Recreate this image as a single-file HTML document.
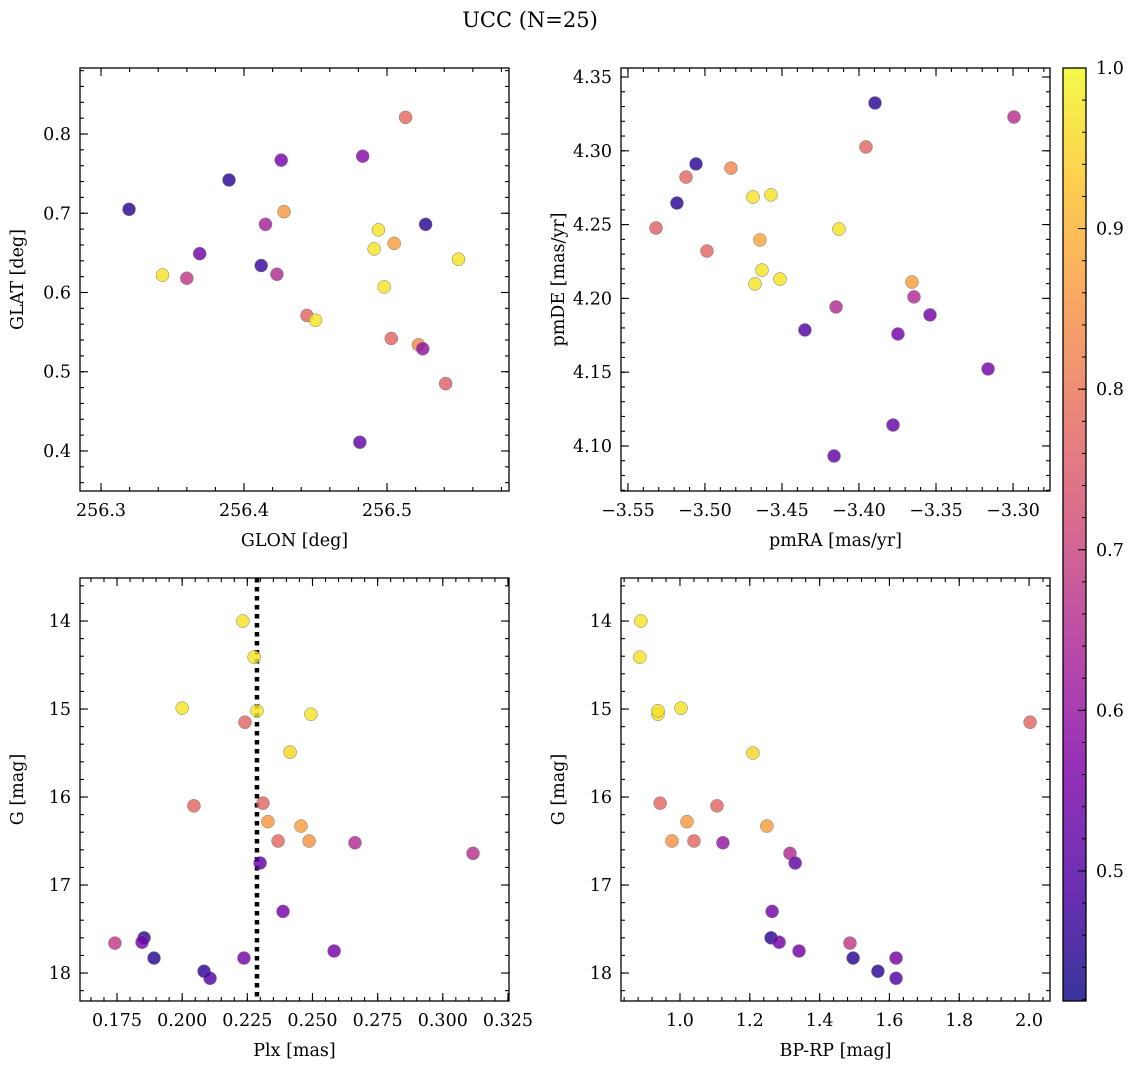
<!DOCTYPE html>
<html><head><meta charset="utf-8"><style>
body{margin:0;background:#fff;}
svg{display:block;font-family:"DejaVu Serif","Liberation Serif",serif;}
</style></head><body>
<svg id="chart" width="1136" height="1068" viewBox="0 0 1136 1068">
<text x="530" y="27" text-anchor="middle" font-size="21">UCC (N=25)</text>
</svg>
<script>
// Panel 1: GLON vs GLAT
const p1X=[256.3196,256.3895,256.426,256.483,256.513,256.369,256.343,256.360,256.412,256.415,256.428,256.423,256.494,256.491,256.505,256.527,256.550,256.498,256.444,256.450,256.503,256.522,256.525,256.541,256.481];
const p1Y=[0.705,0.742,0.767,0.772,0.821,0.649,0.622,0.618,0.634,0.686,0.702,0.623,0.679,0.655,0.662,0.686,0.642,0.607,0.571,0.565,0.542,0.534,0.529,0.485,0.411];
const p1C=[0.45,0.45,0.55,0.58,0.78,0.55,0.97,0.68,0.47,0.63,0.86,0.65,0.97,0.97,0.87,0.45,0.97,0.97,0.77,0.97,0.77,0.83,0.6,0.76,0.52];
// Panel 2: pmRA vs pmDE
const p2X=[-3.3896,-3.2994,-3.3955,-3.5058,-3.5123,-3.4831,-3.5182,-3.5318,-3.4987,-3.4688,-3.4571,-3.413,-3.4643,-3.463,-3.4513,-3.4675,-3.3656,-3.3643,-3.4149,-3.3539,-3.3747,-3.4351,-3.3162,-3.3779,-3.4162];
const p2Y=[4.3324,4.3229,4.3026,4.2911,4.2822,4.2883,4.2646,4.2477,4.2321,4.2687,4.2701,4.247,4.2396,4.2192,4.2131,4.2098,4.2111,4.201,4.1942,4.1888,4.1759,4.1786,4.1522,4.1142,4.0932];
const p2C=[0.45,0.66,0.77,0.45,0.77,0.83,0.45,0.76,0.77,0.97,0.97,0.97,0.88,0.97,0.97,0.97,0.87,0.65,0.65,0.55,0.55,0.5,0.55,0.53,0.52];
// Panel 3: Plx vs G
const p3X=[0.2233,0.2276,0.2,0.2241,0.2287,0.2494,0.2414,0.2045,0.231,0.2329,0.2456,0.2368,0.2487,0.2663,0.3116,0.2299,0.2387,0.1742,0.1854,0.1846,0.1892,0.2583,0.2084,0.2107,0.2237];
const p3Y=[14.0,14.41,14.99,15.15,15.02,15.06,15.49,16.10,16.07,16.28,16.33,16.50,16.50,16.52,16.64,16.75,17.30,17.66,17.60,17.65,17.83,17.75,17.98,18.06,17.83];
const p3C=[0.97,0.97,0.97,0.77,0.97,0.97,0.95,0.77,0.77,0.86,0.87,0.77,0.85,0.65,0.66,0.52,0.55,0.68,0.45,0.55,0.45,0.55,0.45,0.5,0.55];
const plxLine=0.2287;
// Panel 4: BP-RP vs G
const p4X=[0.888,0.885,0.937,0.937,1.003,2.003,1.209,0.943,1.106,1.02,1.249,0.977,1.04,1.123,1.315,1.33,1.264,1.261,1.284,1.341,1.487,1.496,1.619,1.567,1.619];
const p4Y=[14.0,14.41,15.06,15.02,14.99,15.15,15.5,16.07,16.10,16.28,16.33,16.50,16.50,16.52,16.64,16.75,17.30,17.60,17.65,17.75,17.66,17.83,17.83,17.98,18.06];
const p4C=[0.97,0.97,0.97,0.97,0.97,0.77,0.95,0.77,0.77,0.86,0.87,0.85,0.77,0.6,0.65,0.52,0.55,0.45,0.55,0.55,0.68,0.45,0.55,0.45,0.5];
const cbTicks=[0.5,0.6,0.7,0.8,0.9,1.0];
const vmin=0.419,vmax=1.0;

const NS="http://www.w3.org/2000/svg";
const svg=document.getElementById('chart');
function mk(t,a,p){const e=document.createElementNS(NS,t);for(const k in a)e.setAttribute(k,a[k]);(p||svg).appendChild(e);return e;}
const stops=[[0,13,8,135],[0.125,76,2,161],[0.25,126,3,168],[0.375,169,35,149],[0.5,204,71,120],[0.625,229,107,93],[0.75,248,148,65],[0.875,253,195,40],[1,240,249,33]];
function plasma(v){let t=(v-vmin)/(vmax-vmin);t=Math.max(0,Math.min(1,t));for(let i=1;i<stops.length;i++){if(t<=stops[i][0]){const a=stops[i-1],b=stops[i];const f=(t-a[0])/(b[0]-a[0]);return `rgb(${[1,2,3].map(j=>Math.round(a[j]+(b[j]-a[j])*f)).join(',')})`;}}return 'rgb(240,249,33)';}
function fmt(v,d){return (v<0?'\u2212':'')+Math.abs(v).toFixed(d);}
const FS=17.5;

function panel(o){
  const g=mk('g',{});
  
  
  const sx=v=>o.L+(v-o.x0)/(o.x1-o.x0)*(o.R-o.L);
  const sy=v=>o.B-(v-o.y0)/(o.y1-o.y0)*(o.B-o.T);
  const tk=(vals,len,lab)=>{
    vals.forEach(v=>{
      const x=sx(v);if(x<o.L-0.5||x>o.R+0.5)return;
      mk('line',{x1:x,x2:x,y1:o.B,y2:o.B-len,stroke:'#000','stroke-width':1.1},g);
      mk('line',{x1:x,x2:x,y1:o.T,y2:o.T+len,stroke:'#000','stroke-width':1.1},g);
      if(lab){const t=mk('text',{x:x,y:o.B+25,'text-anchor':'middle','font-size':FS},g);t.textContent=fmt(v,o.xd);
        
        }
    });
  };
  const tky=(vals,len,lab)=>{
    vals.forEach(v=>{
      const y=sy(v);if(y<o.T-0.5||y>o.B+0.5)return;
      mk('line',{x1:o.L,x2:o.L+len,y1:y,y2:y,stroke:'#000','stroke-width':1.1},g);
      mk('line',{x1:o.R,x2:o.R-len,y1:y,y2:y,stroke:'#000','stroke-width':1.1},g);
      if(lab){const t=mk('text',{x:o.L-9,y:y+6,'text-anchor':'end','font-size':FS},g);t.textContent=fmt(v,o.yd);
        
        }
    });
  };
  const rng=(a,b,s)=>{const r=[];const n=Math.round((b-a)/s);for(let i=0;i<=n;i++)r.push(+(a+i*s).toFixed(6));return r;};
  tk(rng(o.xm0,o.x1,o.xmin),4,false);tk(rng(o.xM0,o.x1,o.xmaj),8,true);
  tky(rng(o.ym0,o.y1,o.ymin),4,false);tky(rng(o.yM0,o.y1,o.ymaj),8,true);
  if(o.vline!==undefined){const l=mk('line',{x1:sx(o.vline),x2:sx(o.vline),y1:o.T,y2:o.B,stroke:'#000','stroke-width':4.5,'stroke-dasharray':'4.5 4.5'},g);
    
    }
  o.xs.forEach((v,i)=>{
    const c=mk('circle',{cx:sx(v),cy:sy(o.ys[i]),r:6.5,fill:plasma(o.cs[i]),'fill-opacity':0.82,stroke:'#777','stroke-width':0.5},g);
    
    
  });
  const fr=mk('rect',{x:o.L,y:o.T,width:o.R-o.L,height:o.B-o.T,fill:'none',stroke:'#000','stroke-width':1.3},g);
  
  
  const xl=mk('text',{x:(o.L+o.R)/2,y:o.B+55,'text-anchor':'middle','font-size':FS},g);xl.textContent=o.xlab;
  
  
  const yl=mk('text',{x:0,y:0,'text-anchor':'middle','font-size':FS,transform:`translate(${o.L-57},${(o.T+o.B)/2}) rotate(-90)`},g);yl.textContent=o.ylab;
  
  
}
panel({name:'glon-glat-panel',L:80,R:509,T:68,B:491,x0:256.2853,x1:256.5853,y0:0.3495,y1:0.8833,xM0:256.3,xmaj:0.1,xm0:256.3,xmin:0.02,yM0:0.4,ymaj:0.1,ym0:0.36,ymin:0.02,xd:1,yd:1,xs:p1X,ys:p1Y,cs:p1C,xlab:'GLON [deg]',ylab:'GLAT [deg]'});
panel({name:'pm-panel',L:621,R:1050,T:68,B:491,x0:-3.5545,x1:-3.276,y0:4.0695,y1:4.3561,xM0:-3.55,xmaj:0.05,xm0:-3.55,xmin:0.01,yM0:4.10,ymaj:0.05,ym0:4.07,ymin:0.01,xd:2,yd:2,xs:p2X,ys:p2Y,cs:p2C,xlab:'pmRA [mas/yr]',ylab:'pmDE [mas/yr]'});
panel({name:'plx-g-panel',L:80,R:509,T:578,B:1001,x0:0.1608,x1:0.3254,y0:18.318,y1:13.511,xM0:0.175,xmaj:0.025,xm0:0.165,xmin:0.005,yM0:18,ymaj:-1,ym0:18.2,ymin:-0.2,xd:3,yd:0,xs:p3X,ys:p3Y,cs:p3C,xlab:'Plx [mas]',ylab:'G [mag]',vline:plxLine});
panel({name:'cmd-panel',L:621,R:1050,T:578,B:1001,x0:0.831,x1:2.06,y0:18.318,y1:13.511,xM0:1.0,xmaj:0.2,xm0:0.84,xmin:0.04,yM0:18,ymaj:-1,ym0:18.2,ymin:-0.2,xd:1,yd:0,xs:p4X,ys:p4Y,cs:p4C,xlab:'BP-RP [mag]',ylab:'G [mag]'});

// colorbar
const cb=mk('g',{});


const defs=mk('defs',{},cb);
const lg=mk('linearGradient',{id:'cbg',x1:0,y1:1,x2:0,y2:0},defs);
stops.forEach(s=>mk('stop',{offset:s[0],'stop-color':`rgb(${s[1]},${s[2]},${s[3]})`},lg));
const cT=68,cB=1001,cL=1063,cR=1086;
mk('rect',{x:cL,y:cT,width:cR-cL,height:cB-cT,fill:'url(#cbg)','fill-opacity':0.82},cb);
mk('rect',{x:cL,y:cT,width:cR-cL,height:cB-cT,fill:'none',stroke:'#000','stroke-width':1.3},cb);
const cy=v=>cB-(v-vmin)/(vmax-vmin)*(cB-cT);
for(let v=0.42;v<=1.0001;v+=0.02){const y=cy(v);mk('line',{x1:cR,x2:cR-4,y1:y,y2:y,stroke:'#000'},cb);}
cbTicks.forEach(v=>{const y=cy(v);mk('line',{x1:cR,x2:cR-8,y1:y,y2:y,stroke:'#000'},cb);
  const t=mk('text',{x:cR+10,y:y+6,'font-size':FS},cb);t.textContent=v.toFixed(1);
  
  });
</script>
</body></html>
